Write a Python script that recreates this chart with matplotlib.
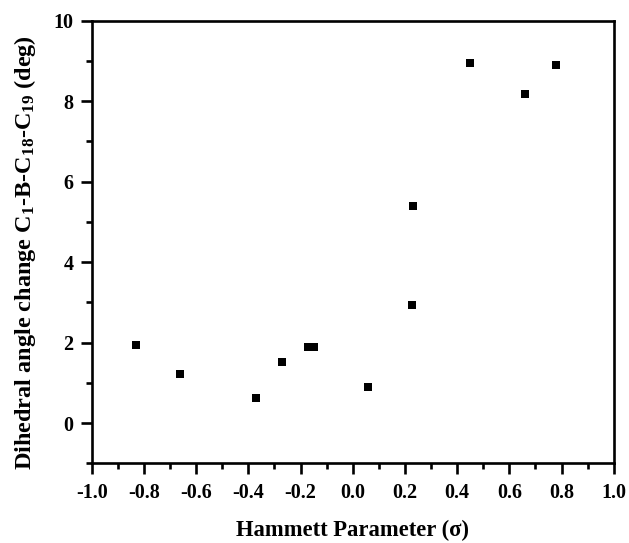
import matplotlib
matplotlib.use("Agg")
import matplotlib.pyplot as plt
from matplotlib.ticker import MultipleLocator

sigma = [-0.83, -0.66, -0.37, -0.27, -0.17, -0.15, 0.06, 0.227, 0.232, 0.45, 0.66, 0.78]
dihedral = [1.95, 1.21, 0.62, 1.53, 1.88, 1.89, 0.90, 2.94, 5.40, 8.94, 8.17, 8.90]

x_ticks = [-1.0, -0.8, -0.6, -0.4, -0.2, 0.0, 0.2, 0.4, 0.6, 0.8, 1.0]
y_ticks = [0, 2, 4, 6, 8, 10]

plt.rcParams['font.family'] = ['Liberation Serif', 'DejaVu Serif']
plt.rcParams['font.weight'] = 'bold'
plt.rcParams['mathtext.fontset'] = 'custom'
plt.rcParams['mathtext.rm'] = 'Liberation Serif:bold'
plt.rcParams['mathtext.default'] = 'rm'

fig = plt.figure(figsize=(6.29, 5.43), dpi=100)
ax = fig.add_axes([0.1458, 0.1468, 0.830, 0.815])

ax.plot(sigma, dihedral, linestyle='none', marker='s', markersize=6.3,
        color='black', markeredgewidth=0)

ax.set_xlim(-1.0, 1.0)
ax.set_ylim(-1, 10)
ax.set_xticks(x_ticks)
ax.set_xticklabels([f"{v:.1f}" for v in x_ticks])
ax.set_yticks(y_ticks)
ax.xaxis.set_minor_locator(MultipleLocator(0.1))
ax.yaxis.set_minor_locator(MultipleLocator(1))

for s in ax.spines.values():
    s.set_linewidth(1.9)
ax.tick_params(which='major', direction='out', length=8, width=1.9,
               labelsize=14.5, top=False, right=False, pad=5)
ax.tick_params(axis='x', which='major', pad=6)
ax.tick_params(which='minor', direction='out', length=4.3, width=1.9,
               top=False, right=False)
for lab in ax.get_xticklabels() + ax.get_yticklabels():
    lab.set_fontweight('bold')

ax.set_xlabel("Hammett Parameter (σ)", fontsize=16.3, fontweight='bold', labelpad=12)
ax.set_ylabel("Dihedral angle change C$_1$-B-C$_{18}$-C$_{19}$ (deg)",
              fontsize=17.5, fontweight='bold')
ax.yaxis.set_label_coords(-0.103, 0.476)

fig.savefig("out.png", dpi=100)
